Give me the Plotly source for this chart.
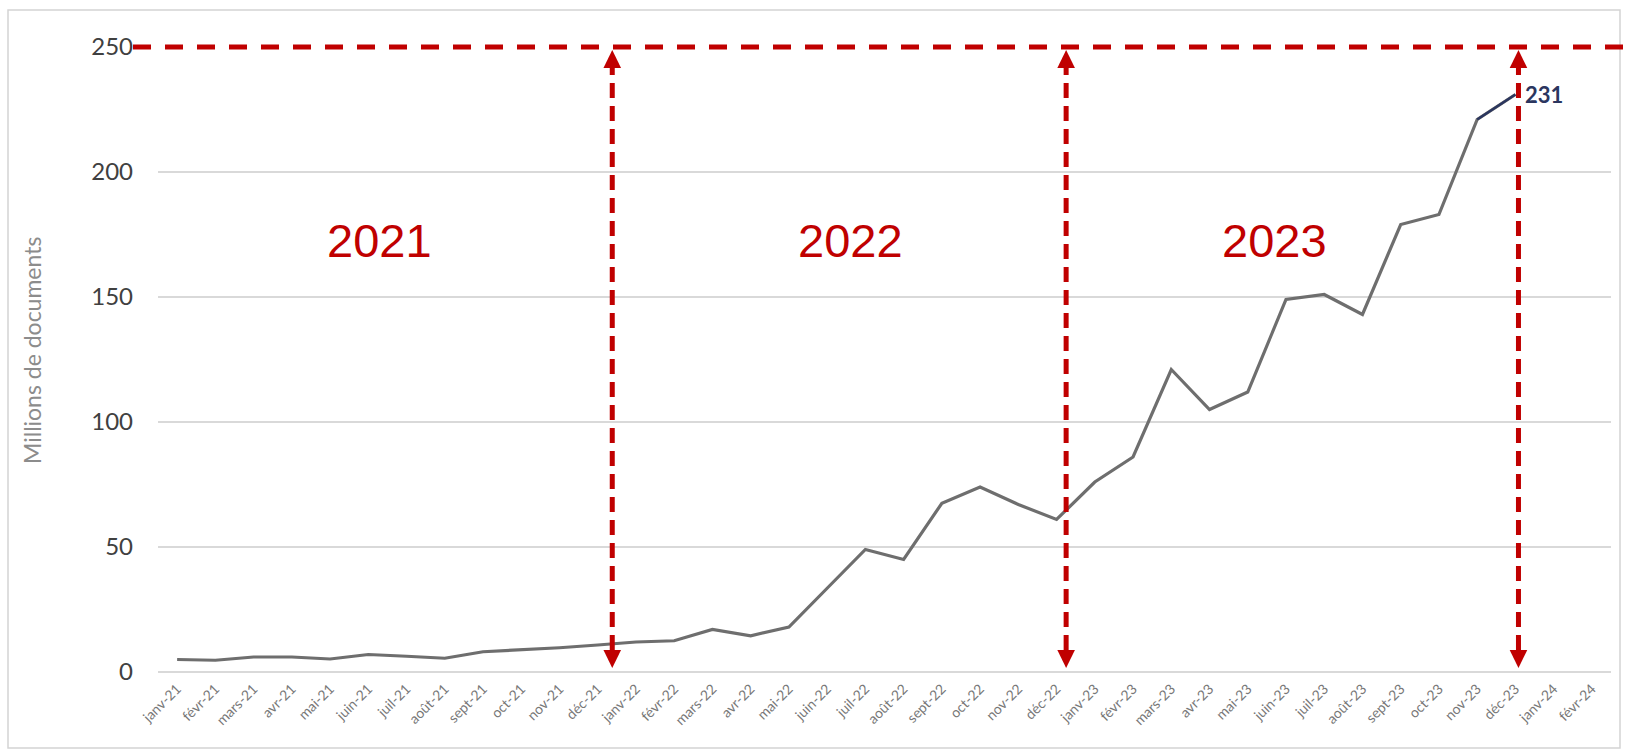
import plotly.graph_objects as go

# ---------------- data ----------------
months = ["janv-21", "févr-21", "mars-21", "avr-21", "mai-21", "juin-21", "juil-21", "août-21",
          "sept-21", "oct-21", "nov-21", "déc-21",
          "janv-22", "févr-22", "mars-22", "avr-22", "mai-22", "juin-22", "juil-22", "août-22",
          "sept-22", "oct-22", "nov-22", "déc-22",
          "janv-23", "févr-23", "mars-23", "avr-23", "mai-23", "juin-23", "juil-23", "août-23",
          "sept-23", "oct-23", "nov-23", "déc-23",
          "janv-24", "févr-24"]

documents = [5, 4.7, 6, 6, 5.2, 7, 6.3, 5.5, 8.1, 8.8, 9.7, 10.8,
             12, 12.5, 17, 14.5, 18, 33.5, 49, 45, 67.5, 74, 67, 61,
             76, 86, 121, 105, 112, 149, 151, 143, 179, 183, 221, 231]

y_ticks = [0, 50, 100, 150, 200, 250]
year_labels = ["2021", "2022", "2023"]
y_title = "Millions de documents"

# ---------------- layout constants ----------------
W, H = 1625, 755
ML, MR, MT, MB = 158, 14, 47, 83
RED = "#C00000"
GRAY_LINE = "#6E6E6E"
NAVY = "#2B365F"

year_x = [5.28, 17.6, 28.7]
year_y = 172.8
arrow_x = [11.38, 23.25, 35.08]

n = len(documents)
x_data = months[:n]

fig = go.Figure()
fig.add_trace(go.Scatter(x=x_data, y=documents, mode="lines",
                         line=dict(color=GRAY_LINE, width=3.2), hoverinfo="skip",
                         showlegend=False))
fig.add_trace(go.Scatter(x=x_data[-2:], y=documents[-2:], mode="lines",
                         line=dict(color=NAVY, width=2.4), hoverinfo="skip",
                         showlegend=False))

shapes = []
pw = W - ML - MR
ph = H - MT - MB
def px_to_paper_x(px):
    return (px - ML) / pw
def px_to_paper_y(py):
    return (H - MB - py) / ph

# frame
shapes.append(dict(type="rect", xref="paper", yref="paper",
                   x0=px_to_paper_x(8), x1=px_to_paper_x(1620),
                   y0=px_to_paper_y(748), y1=px_to_paper_y(10),
                   line=dict(color="#D4D4D4", width=1.5), layer="below"))
# horizontal red dashed line at top value
shapes.append(dict(type="line", xref="paper", yref="paper",
                   x0=px_to_paper_x(133), x1=px_to_paper_x(1625), y0=1, y1=1,
                   line=dict(color=RED, width=5, dash="18px,14px"), layer="above"))

top_tip, top_base = 248.8, 241.6
bot_tip, bot_base = 1.6, 8.8
half_w = 0.23
for ax_ in arrow_x:
    shapes.append(dict(type="line", xref="x", yref="y", x0=ax_, x1=ax_,
                       y0=bot_base, y1=top_base,
                       line=dict(color=RED, width=5, dash="15px,8px"), layer="above"))
    shapes.append(dict(type="path", xref="x", yref="y",
                       path=f"M {ax_-half_w},{top_base} L {ax_},{top_tip} L {ax_+half_w},{top_base} Z",
                       fillcolor=RED, line=dict(color=RED, width=0), layer="above"))
    shapes.append(dict(type="path", xref="x", yref="y",
                       path=f"M {ax_-half_w},{bot_base} L {ax_},{bot_tip} L {ax_+half_w},{bot_base} Z",
                       fillcolor=RED, line=dict(color=RED, width=0), layer="above"))

annotations = []
for xx, lab in zip(year_x, year_labels):
    annotations.append(dict(x=xx, y=year_y, xref="x", yref="y", text=lab, showarrow=False,
                            font=dict(family="Liberation Sans, Arial", size=47, color=RED),
                            xanchor="center", yanchor="middle"))
annotations.append(dict(x=x_data[-1], y=documents[-1], xref="x", yref="y",
                        text=f"<b>{documents[-1]}</b>", showarrow=False,
                        xanchor="left", yanchor="middle", xshift=8,
                        font=dict(family="Lato, Liberation Sans", size=22, color=NAVY)))
annotations.append(dict(x=px_to_paper_x(32), y=px_to_paper_y(351), xref="paper", yref="paper",
                        text=y_title, textangle=-90, showarrow=False,
                        xanchor="center", yanchor="middle",
                        font=dict(family="Lato, Liberation Sans", size=23, color="#8C8C8C")))

fig.update_layout(
    width=W, height=H,
    margin=dict(l=ML, r=MR, t=MT, b=MB),
    paper_bgcolor="white", plot_bgcolor="white",
    shapes=shapes, annotations=annotations,
    xaxis=dict(type="category", categoryorder="array", categoryarray=months,
               range=[-0.5, len(months) - 0.5], tickmode="array",
               tickvals=months, ticktext=months, tickangle=-45,
               showgrid=False, showline=False, zeroline=False,
               tickfont=dict(family="Lato, Liberation Sans", size=14, color="#777777"),
               ticklabelstandoff=5),
    yaxis=dict(range=[0, 250], tickvals=y_ticks, showgrid=True, gridcolor="#D9D9D9",
               gridwidth=1.5, zeroline=True, zerolinecolor="#D9D9D9", zerolinewidth=1.5,
               showline=False,
               tickfont=dict(family="Lato, Liberation Sans", size=24, color="#404040"),
               ticklabelstandoff=24),
)

fig.write_html("out.html")
